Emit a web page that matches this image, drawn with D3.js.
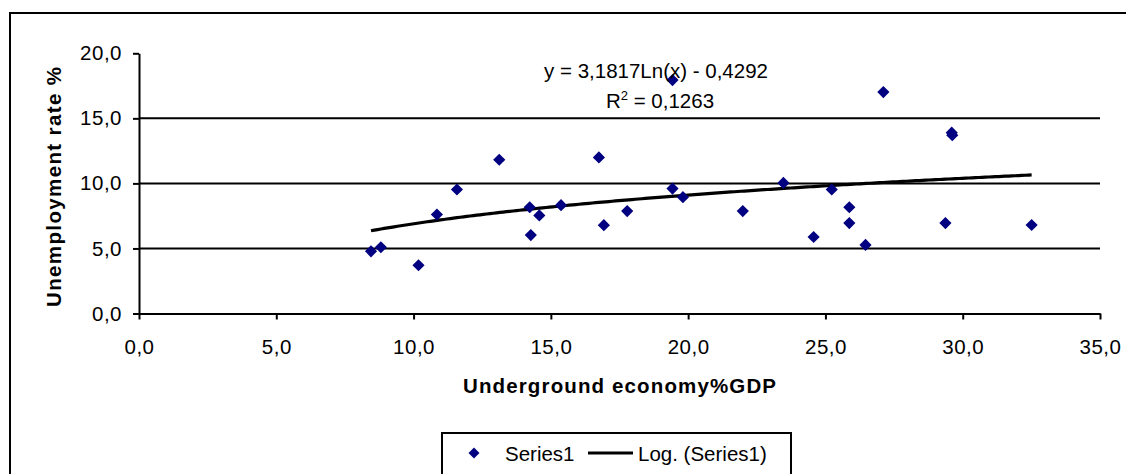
<!DOCTYPE html>
<html>
<head>
<meta charset="utf-8">
<script src="https://cdn.jsdelivr.net/npm/d3@7/dist/d3.min.js"></script>
<style>
  html, body { margin: 0; padding: 0; background: #fff; }
  svg { display: block; font-family: "Liberation Sans", Arial, sans-serif; }
</style>
</head>
<body>
<svg id="chart" width="1126" height="474"></svg>
<script>
// Data
const undergroundGDP = [8.45, 8.81, 10.18, 10.85, 11.58, 13.12, 14.23, 14.27, 14.58, 15.37, 16.75, 16.93, 17.78, 19.43, 19.43, 19.81, 21.99, 23.47, 24.57, 25.23, 25.87, 25.87, 26.46, 27.11, 29.60, 29.62, 29.37, 32.51];
const unemployment  = [4.78, 5.09, 3.71, 7.61, 9.53, 11.82, 8.17, 6.03, 7.54, 8.33, 12.00, 6.79, 7.87, 9.60, 17.94, 8.94, 7.87, 10.04, 5.88, 9.53, 8.17, 6.95, 5.27, 17.02, 13.90, 13.70, 6.95, 6.80];
const xTicks = [0, 5, 10, 15, 20, 25, 30, 35];
const yTicks = [0, 5, 10, 15, 20];
const gridValues = [5, 10, 15];
const trendCoef = [3.1817, -0.4292];   // y = a*ln(x) + b
const trendLabel = "y = 3,1817Ln(x) - 0,4292";
const r2Label = "0,1263";
const xTitle = "Underground economy%GDP";
const yTitle = "Unemployment rate %";
const legendLabels = ["Series1", "Log. (Series1)"];

const svg = d3.select("#chart");
const fmt = d => d.toFixed(1).replace(".", ",");
const FS = 20.5;

const x = d3.scaleLinear().domain([0, 35]).range([139, 1100]);
const y = d3.scaleLinear().domain([0, 20]).range([313.5, 53.3]);

// Outer chart border (extends past right/bottom of window)
svg.append("rect")
  .attr("x", 10).attr("y", 13).attr("width", 1140).attr("height", 480)
  .attr("fill", "none").attr("stroke", "#000").attr("stroke-width", 2);

// Gridlines
svg.append("g").selectAll("line").data(gridValues).join("line")
  .attr("x1", x(0)).attr("x2", x(35))
  .attr("y1", d => y(d)).attr("y2", d => y(d))
  .attr("stroke", "#000").attr("stroke-width", 2);

// Axes
const xAxis = svg.append("g").attr("transform", `translate(0,${y(0)})`)
  .call(d3.axisBottom(x).tickValues(xTicks).tickFormat(fmt).tickSize(6).tickSizeOuter(0).tickPadding(20));
const yAxis = svg.append("g").attr("transform", `translate(${x(0)},0)`)
  .call(d3.axisLeft(y).tickValues(yTicks).tickFormat(fmt).tickSize(6).tickSizeOuter(0).tickPadding(11));
[xAxis, yAxis].forEach(g => {
  g.select(".domain").attr("stroke", "#000").attr("stroke-width", 2);
  g.selectAll(".tick line").attr("stroke", "#000").attr("stroke-width", 2);
  g.selectAll(".tick text").attr("fill", "#000")
    .style("font-size", FS + "px").style("font-family", "Liberation Sans, Arial, sans-serif")
    .attr("letter-spacing", 0.5);
});

// Axis titles
svg.append("text").attr("x", (x(0) + x(35)) / 2).attr("y", 392.5)
  .attr("text-anchor", "middle").attr("font-weight", "bold").attr("font-size", FS)
  .attr("textLength", 313).attr("lengthAdjust", "spacing")
  .text(xTitle);
svg.append("text").attr("transform", "translate(61,187) rotate(-90)")
  .attr("text-anchor", "middle").attr("font-weight", "bold").attr("font-size", FS)
  .attr("textLength", 240).attr("lengthAdjust", "spacing")
  .text(yTitle);

// Trend line
const xmin = d3.min(undergroundGDP), xmax = d3.max(undergroundGDP);
const trendPts = d3.range(0, 201).map(i => {
  const xv = xmin + (xmax - xmin) * i / 200;
  return [xv, trendCoef[0] * Math.log(xv) + trendCoef[1]];
});
svg.append("path").datum(trendPts)
  .attr("d", d3.line().x(d => x(d[0])).y(d => y(d[1])))
  .attr("fill", "none").attr("stroke", "#000").attr("stroke-width", 3.2);

// Points (diamonds)
const diamond = d3.symbol().type(d3.symbolSquare).size(74)();
svg.append("g").selectAll("path").data(undergroundGDP.map((v, i) => [v, unemployment[i]])).join("path")
  .attr("d", diamond)
  .attr("transform", d => `translate(${x(d[0])},${y(d[1])}) rotate(45)`)
  .attr("fill", "#000080");

// Trend equation
svg.append("text").attr("x", 656).attr("y", 78).attr("text-anchor", "middle")
  .attr("font-size", FS).text(trendLabel);
const r2 = svg.append("text").attr("x", 660).attr("y", 108).attr("text-anchor", "middle").attr("font-size", FS);
r2.append("tspan").text("R");
r2.append("tspan").attr("dy", -8).attr("font-size", 13).text("2");
r2.append("tspan").attr("dy", 8).text(" = " + r2Label);

// Legend
svg.append("rect").attr("x", 442).attr("y", 433).attr("width", 349).attr("height", 60)
  .attr("fill", "#fff").attr("stroke", "#000").attr("stroke-width", 2);
svg.append("path").attr("d", d3.symbol().type(d3.symbolSquare).size(60)())
  .attr("transform", "translate(474,453) rotate(45)").attr("fill", "#000080");
svg.append("text").attr("x", 505).attr("y", 461).attr("font-size", FS).text(legendLabels[0]);
svg.append("line").attr("x1", 588).attr("x2", 633).attr("y1", 453).attr("y2", 453)
  .attr("stroke", "#000").attr("stroke-width", 3.2);
svg.append("text").attr("x", 638).attr("y", 461).attr("font-size", FS).text(legendLabels[1]);
</script>
</body>
</html>
